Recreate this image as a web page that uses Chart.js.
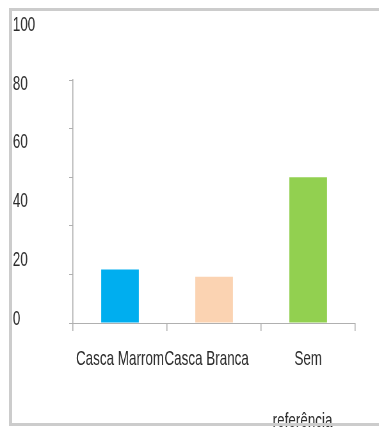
<!DOCTYPE html>
<html>
<head>
<meta charset="utf-8">
<script src="https://cdn.jsdelivr.net/npm/chart.js@4/dist/chart.umd.min.js"></script>
<style>
  html, body { margin: 0; padding: 0; background: #ffffff; overflow: hidden; }
  #wrap { position: relative; width: 379px; height: 430px; overflow: hidden; }
  #squish { position: absolute; left: 0; top: 0; width: 592px; height: 430px;
            transform: scaleX(0.64); transform-origin: 0 0; }
  .ln { position: absolute; background: #cccccc; pointer-events: none; }
</style>
</head>
<body>
<div id="wrap">
  <div id="squish"><canvas id="c" width="592" height="430"></canvas></div>
  <div class="ln" style="left:10px; top:8px; width:369px; height:3px;"></div>
  <div class="ln" style="left:9px; top:8px; width:3px; height:418px;"></div>
  <div class="ln" style="left:10px; top:423px; width:369px; height:3px;"></div>
</div>
<script>
const categories = ['Casca Marrom', 'Casca Branca    ', ['Sem', 'referência   ']];
const values = [22, 19, 60];
const barColors = ['#00aeef', '#fbd3b2', '#92d050'];
const axisMin = 0;
const axisMax = 100;
const axisStep = 20;

const FONT = "'Liberation Sans', Arial, sans-serif";
const gray = '#b0b0b0';

new Chart(document.getElementById('c'), {
  type: 'bar',
  data: {
    labels: categories,
    datasets: [{
      data: values,
      backgroundColor: barColors,
      borderWidth: 0,
      barPercentage: 0.4,
      categoryPercentage: 1.0,
      yAxisID: 'y'
    }]
  },
  options: {
    responsive: false,
    animation: false,
    devicePixelRatio: 1,
    layout: { padding: { left: 20, right: 37, top: 29, bottom: 0 } },
    plugins: { legend: { display: false }, tooltip: { enabled: false } },
    scales: {
      x: {
        position: 'bottom',
        offset: true,
        grid: { display: true, drawOnChartArea: false, drawTicks: true, tickLength: 8, color: gray, lineWidth: 1.6, offset: true },
        border: { display: true, color: gray, width: 1 },
        ticks: {
          autoSkip: false, maxRotation: 0, minRotation: 0, padding: -3,
          color: '#2a2a2a', font: { family: FONT, size: 21, lineHeight: '62px' }
        },
        afterFit: s => { s.height = 107; }
      },
      y: {
        position: 'left',
        stack: 'main',
        stackWeight: 243,
        weight: 0,
        min: axisMin, max: axisMax,
        ticks: { display: false, stepSize: axisStep },
        grid: { display: true, drawOnChartArea: false, drawTicks: true, tickLength: 6, color: gray, lineWidth: 1 },
        border: { display: true, color: gray, width: 1.6 },
        afterFit: s => { s.width = 6; }
      },
      yTop: {
        position: 'left',
        stack: 'main',
        stackWeight: 51,
        weight: 0,
        display: true,
        min: 0, max: 1,
        ticks: { display: false },
        grid: { display: false },
        border: { display: false },
        afterFit: s => { s.width = 6; }
      },
      yLabels: {
        position: 'left',
        weight: 10,
        min: axisMin, max: axisMax,
        grid: { display: false },
        border: { display: false },
        ticks: {
          stepSize: axisStep, crossAlign: 'far', labelOffset: -4, padding: 0,
          color: '#2a2a2a', font: { family: FONT, size: 21 }
        },
        afterFit: s => { s.width = 88; }
      }
    }
  }
});
</script>
</body>
</html>
